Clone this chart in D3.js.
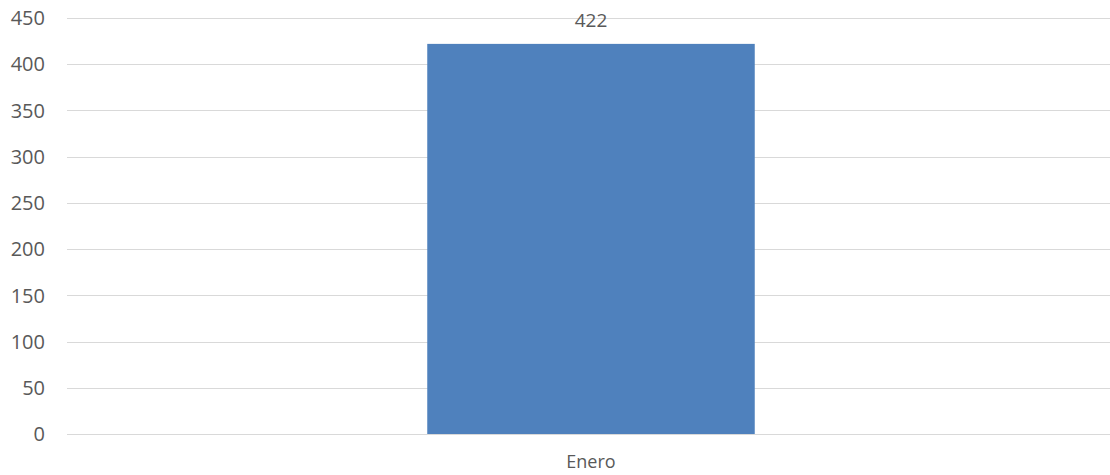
<!DOCTYPE html>
<html>
<head>
<meta charset="utf-8">
<script src="https://cdn.jsdelivr.net/npm/d3@7"></script>
<style>
  body { margin: 0; background: #fff; }
  text { font-family: "Open Sans", sans-serif; fill: #595959; }
</style>
</head>
<body>
<div id="chart"></div>
<script>
const categories = ['Enero'];
const values = [422];
const yTicks = [0, 50, 100, 150, 200, 250, 300, 350, 400, 450];

const width = 1110, height = 475;
const margin = {top: 18, right: -5, bottom: 41, left: 67};

const svg = d3.select('#chart').append('svg')
    .attr('width', width)
    .attr('height', height);

const x = d3.scaleBand()
    .domain(categories)
    .range([margin.left, width - margin.right])
    .paddingInner(0)
    .paddingOuter(1.1);

const y = d3.scaleLinear()
    .domain([0, 450])
    .range([height - margin.bottom, margin.top]);

// gridlines
svg.append('g')
    .selectAll('line')
    .data(yTicks)
    .enter().append('line')
    .attr('x1', margin.left)
    .attr('x2', width)
    .attr('y1', (d) => Math.round(y(d)) + 0.5)
    .attr('y2', (d) => Math.round(y(d)) + 0.5)
    .attr('stroke', '#d9d9d9')
    .attr('stroke-width', 1);

// y labels
svg.append('g')
    .selectAll('text')
    .data(yTicks)
    .enter().append('text')
    .attr('x', 45)
    .attr('y', (d) => y(d))
    .attr('dy', '0.36em')
    .attr('text-anchor', 'end')
    .style('font-size', '20px')
    .text((d) => d);

// bars
svg.append('g')
    .selectAll('rect')
    .data(values)
    .enter().append('rect')
    .attr('x', (d, i) => x(categories[i]))
    .attr('y', (d) => y(d))
    .attr('width', x.bandwidth())
    .attr('height', (d) => y(0) - y(d))
    .attr('fill', '#4f81bd');

// value labels
svg.append('g')
    .selectAll('text')
    .data(values)
    .enter().append('text')
    .attr('x', (d, i) => x(categories[i]) + x.bandwidth() / 2)
    .attr('y', (d) => y(d) - 17)
    .attr('text-anchor', 'middle')
    .style('font-size', '19px')
    .text((d) => d);

// x labels
svg.append('g')
    .selectAll('text')
    .data(categories)
    .enter().append('text')
    .attr('x', (d) => x(d) + x.bandwidth() / 2)
    .attr('y', 468)
    .attr('text-anchor', 'middle')
    .style('font-size', '18px')
    .text((d) => d);
</script>
</body>
</html>
